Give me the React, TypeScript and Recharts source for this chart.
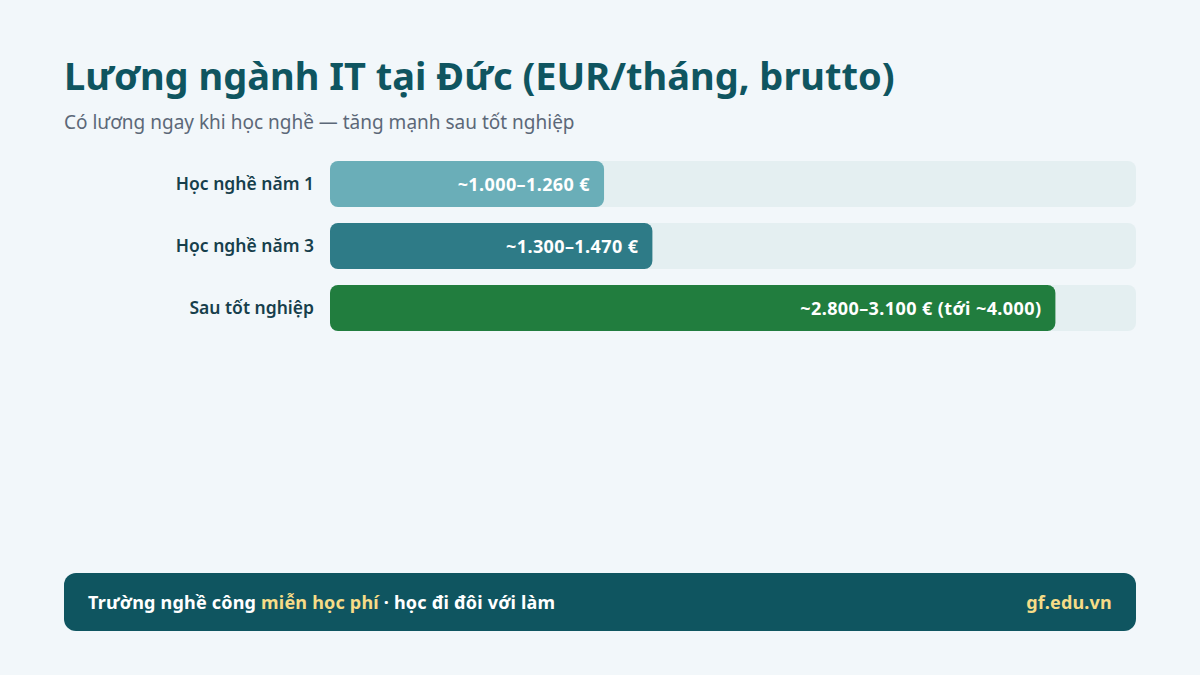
import { BarChart, Bar, XAxis, YAxis, Cell, LabelList } from 'recharts';

const categories = ['Học nghề năm 1', 'Học nghề năm 3', 'Sau tốt nghiệp'];
const barShare = [34, 40, 90];
const valueLabels = ['~1.000–1.260 €', '~1.300–1.470 €', '~2.800–3.100 € (tới ~4.000)'];

const BAR_COLORS = ['#6aaeb8', '#2e7b87', '#217d3e'];
const FONT = '"Noto Sans", "Open Sans", sans-serif';

const chartData = categories.map((name, i) => ({
  name,
  value: barShare[i],
  label: valueLabels[i],
}));

const renderValueLabel = (props: any) => {
  const { x, y, width, height, value } = props;
  return (
    <text
      x={x + width - 14}
      y={y + height / 2}
      textAnchor="end"
      dominantBaseline="central"
      fill="#ffffff"
      fontSize={18}
      fontWeight={700}
      fontFamily={FONT}
      letterSpacing={0.4}
    >
      {value}
    </text>
  );
};

export default function App() {
  return (
    <div
      style={{
        position: 'absolute',
        left: 0,
        top: 0,
        width: 1200,
        height: 675,
        background: '#f2f7fa',
        fontFamily: FONT,
        overflow: 'hidden',
      }}
    >
      <div
        style={{
          position: 'absolute',
          left: 64,
          top: 51,
          fontSize: 38,
          fontWeight: 700,
          color: '#0f5560',
          lineHeight: '48px',
          whiteSpace: 'nowrap',
        }}
      >
        Lương ngành IT tại Đức (EUR/tháng, brutto)
      </div>
      <div
        style={{
          position: 'absolute',
          left: 64,
          top: 109,
          fontSize: 19,
          color: '#5c6878',
          lineHeight: '26px',
          whiteSpace: 'nowrap',
        }}
      >
        Có lương ngay khi học nghề — tăng mạnh sau tốt nghiệp
      </div>

      <div style={{ position: 'absolute', left: 0, top: 0 }}>
        <BarChart
          width={1200}
          height={339}
          data={chartData}
          layout="vertical"
          margin={{ top: 153, right: 64, left: 0, bottom: 0 }}
          barSize={46}
        >
          <XAxis type="number" domain={[0, 100]} hide />
          <YAxis
            type="category"
            dataKey="name"
            width={330}
            axisLine={false}
            tickLine={false}
            tickSize={0}
            tickMargin={16}
            tick={{ fill: '#173f4c', fontSize: 17.5, fontWeight: 600, fontFamily: FONT }}
          />
          <Bar
            dataKey="value"
            radius={8}
            background={{ fill: '#e4eff1', radius: 8 }}
            isAnimationActive={false}
          >
            {chartData.map((entry, index) => (
              <Cell key={`cell-${index}`} fill={BAR_COLORS[index]} />
            ))}
            <LabelList dataKey="label" content={renderValueLabel} />
          </Bar>
        </BarChart>
      </div>

      <div
        style={{
          position: 'absolute',
          left: 64,
          top: 573,
          width: 1072,
          height: 58,
          borderRadius: 12,
          background: '#0f5560',
          display: 'flex',
          alignItems: 'center',
          justifyContent: 'space-between',
          padding: '0 24px',
          boxSizing: 'border-box',
          fontSize: 18,
          fontWeight: 700,
          letterSpacing: 0.2,
          color: '#ffffff',
          whiteSpace: 'nowrap',
        }}
      >
        <span>
          Trường nghề công <span style={{ color: '#f6dc87' }}>miễn học phí</span> · học đi đôi với làm
        </span>
        <span style={{ color: '#f6dc87' }}>gf.edu.vn</span>
      </div>
    </div>
  );
}
